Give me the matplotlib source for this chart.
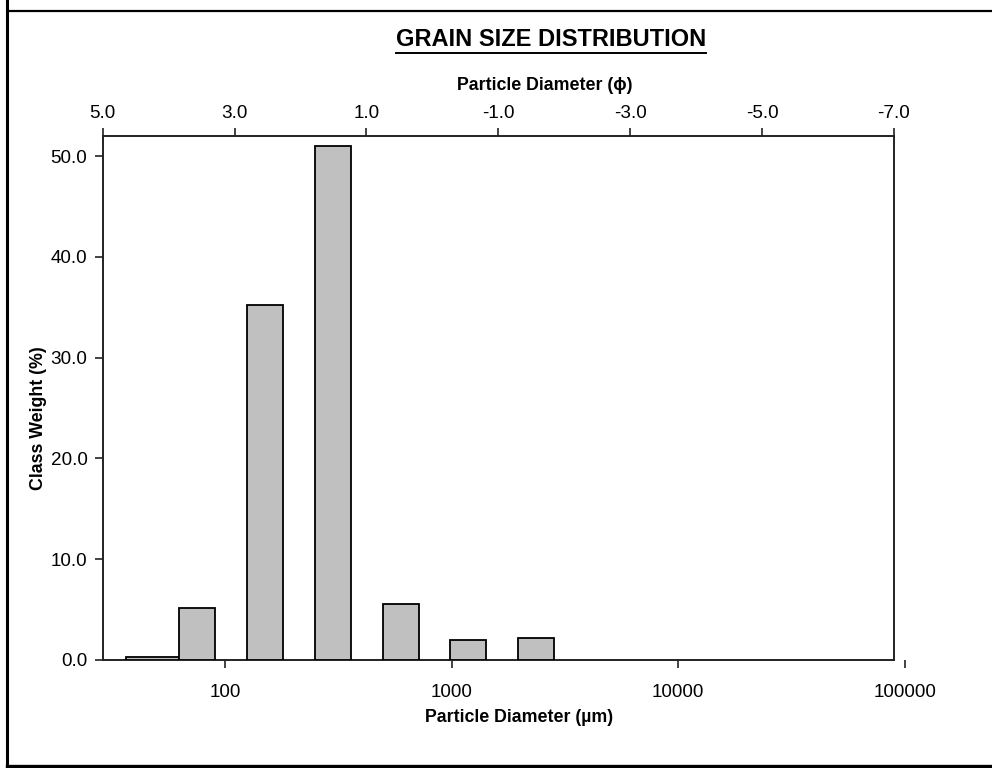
import matplotlib
matplotlib.use("Agg")
import matplotlib.pyplot as plt
from matplotlib.lines import Line2D
from matplotlib.ticker import NullLocator

plt.rcParams['font.family'] = ['Liberation Sans', 'DejaVu Sans']

# Data (sieve classes, micrometres) and class weights (%)
bar_left_um = [36.6, 62.5, 125, 250, 500, 983, 1967]
bar_right_um = [62.7, 90, 180, 360, 720, 1416, 2832]
class_weight = [0.3, 5.2, 35.2, 51.0, 5.6, 2.0, 2.2]

phi_ticks = [5.0, 3.0, 1.0, -1.0, -3.0, -5.0, -7.0]
um_ticks = [100, 1000, 10000, 100000]
y_ticks = [0, 10, 20, 30, 40, 50]

W_PX, H_PX = 992, 768
fig = plt.figure(figsize=(W_PX / 100, H_PX / 100), dpi=100)

L = 102.7 / W_PX
B = (H_PX - 660) / H_PX
Wd = (894 - 102.7) / W_PX
Ht = (660 - 136) / H_PX
Wb = (905 - 102.7) / W_PX

TICK_FS = 13.6
LABEL_FS = 12.8

# main axes: frame, y axis and top phi axis
ax = fig.add_axes([L, B, Wd, Ht])
ax.set_xlim(5, -7)
ax.set_ylim(0, 52)
ax.xaxis.tick_top()
ax.xaxis.set_label_position('top')
ax.set_xticks(phi_ticks)
ax.set_xticklabels([f"{v:.1f}" for v in phi_ticks])
ax.set_yticks(y_ticks)
ax.set_yticklabels([f"{v:.1f}" for v in y_ticks])
ax.tick_params(axis='both', direction='out', length=6, width=1.2, color='#222222',
               labelsize=TICK_FS)
ax.tick_params(axis='x', pad=4)
ax.tick_params(axis='y', pad=5)
for s in ax.spines.values():
    s.set_linewidth(1.4)
    s.set_color('#222222')
ax.set_xlabel('Particle Diameter (\u03d5)', fontsize=LABEL_FS, fontweight='bold')
ax.xaxis.set_label_coords((545 - 102.7) / (894 - 102.7), (660 - 85) / (660 - 136))
ax.xaxis.label.set_va('center')
ax.set_ylabel('Class Weight (%)', fontsize=LABEL_FS, fontweight='bold')
ax.yaxis.set_label_coords((38 - 102.7) / (894 - 102.7), (660 - 418) / (660 - 136))
ax.yaxis.label.set_va('center')

# bottom log axis in micrometres (extends slightly past the frame)
axb = fig.add_axes([L, B, Wb, Ht], facecolor='none')
axb.set_xscale('log')
axb.set_xlim(28.9, 1e5)
axb.set_ylim(0, 52)
for s in axb.spines.values():
    s.set_visible(False)
axb.set_yticks([])
axb.set_xticks(um_ticks)
axb.set_xticklabels([str(v) for v in um_ticks])
axb.xaxis.set_minor_locator(NullLocator())
axb.tick_params(axis='x', direction='out', length=6, width=1.2, color='#222222',
                labelsize=TICK_FS, pad=11)
axb.set_xlabel('Particle Diameter (\u00b5m)', fontsize=LABEL_FS, fontweight='bold')
axb.xaxis.set_label_coords((519 - 102.7) / (905 - 102.7), (660 - 718) / (660 - 136))
axb.xaxis.label.set_va('center')

widths = [r - l for l, r in zip(bar_left_um, bar_right_um)]
axb.bar(bar_left_um, class_weight, width=widths, align='edge',
        color='#c0c0c0', edgecolor='black', linewidth=1.3, zorder=3)

# title with underline
title = fig.text(551 / W_PX, 1 - 40 / H_PX, 'GRAIN SIZE DISTRIBUTION',
                 ha='center', va='center', fontsize=17, fontweight='bold')
fig.canvas.draw()
bb = title.get_window_extent().transformed(fig.transFigure.inverted())
uy = 1 - 53 / H_PX
fig.add_artist(Line2D([bb.x0, bb.x1], [uy, uy], transform=fig.transFigure,
                      color='black', linewidth=1.4))

# outer border lines
fig.add_artist(Line2D([6.5 / W_PX, 6.5 / W_PX], [0, 1], transform=fig.transFigure,
                      color='black', linewidth=2.2))
fig.add_artist(Line2D([8 / W_PX, 1], [1 - 11 / H_PX, 1 - 11 / H_PX], transform=fig.transFigure,
                      color='black', linewidth=1.6))
fig.add_artist(Line2D([6.5 / W_PX, 1], [1 - 766 / H_PX, 1 - 766 / H_PX], transform=fig.transFigure,
                      color='black', linewidth=2.4))

fig.savefig('out.png', dpi=100)
